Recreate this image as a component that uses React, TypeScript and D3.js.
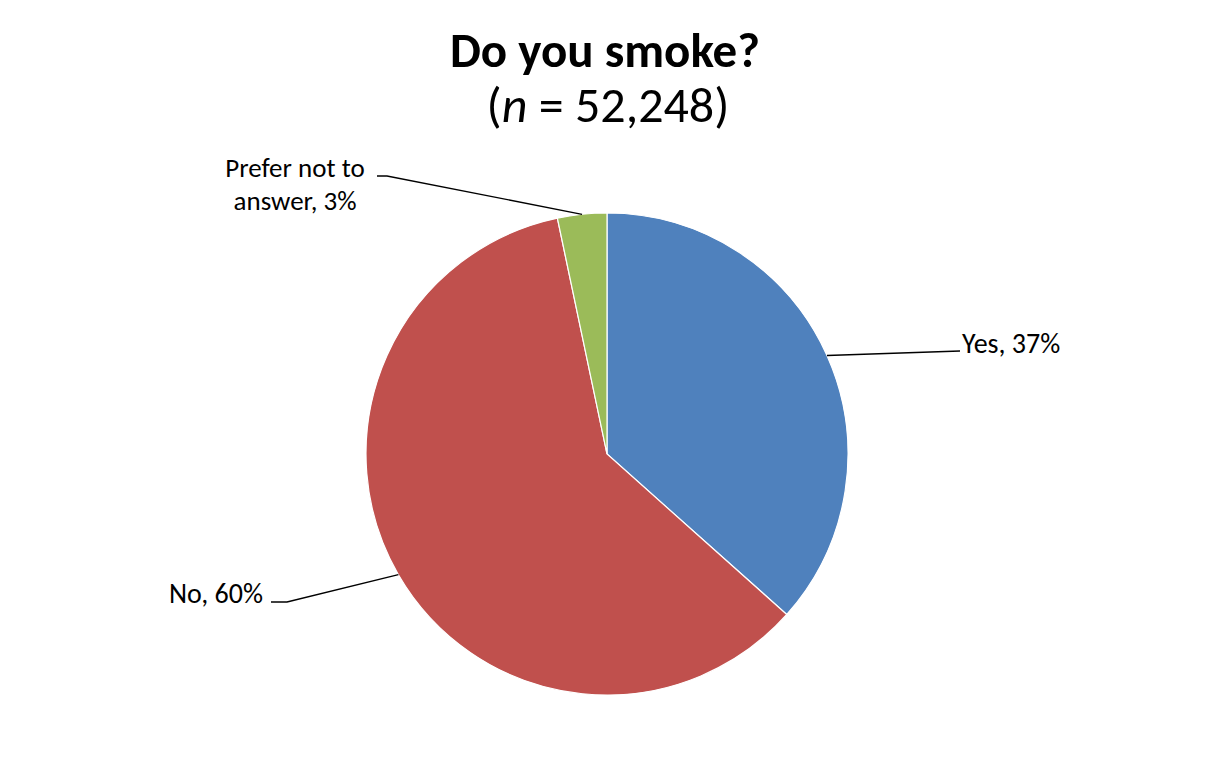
import React from "react";
import * as d3 from "d3";

const categories = ["Yes", "No", "Prefer not to answer"];
const values = [36.6, 60.1, 3.3];
const colors = ["#4F81BD", "#C0504D", "#9BBB59"];
const titleText = "Do you smoke?";
const sampleSize = "52,248";

const W = 1219;
const H = 762;
const cx = 607;
const cy = 454;
const R = 241;

// label layout: leader end, optional elbow, text position (baseline)
const labelLayout = [
  { end: [960, 351], elbow: null as null | number[], tx: 962, ty: 353, anchor: "start" },
  { end: [271, 602], elbow: [287, 602], tx: 263, ty: 603, anchor: "end" },
  { end: [377, 176], elbow: [387, 176], tx: 295, ty: 177, anchor: "middle" },
];

export default function App() {
  const pie = d3.pie<number>().sort(null).value((d) => d);
  const arcs = pie(values);
  const arc = d3.arc<d3.PieArcDatum<number>>().innerRadius(0).outerRadius(R);
  const font = "Carlito, Calibri, Lato, 'Open Sans', sans-serif";
  return (
    <svg width={W} height={H} style={{ position: "absolute", left: 0, top: 0 }}>
      <rect width={W} height={H} fill="#fff" />
      <text x={605} y={67} textAnchor="middle" fontFamily={font} fontWeight="bold" fontSize={49} fill="#000">
        {titleText}
      </text>
      <text x={608} y={122} textAnchor="middle" fontFamily={font} fontSize={50} fill="#000">
        (<tspan fontStyle="italic">n</tspan> = {sampleSize})
      </text>
      <g transform={`translate(${cx},${cy})`}>
        {arcs.map((a, i) => (
          <path key={i} d={arc(a) || ""} fill={colors[i]} stroke="#fff" strokeWidth={1.2} />
        ))}
      </g>
      {arcs.map((a, i) => {
        const mid = (a.startAngle + a.endAngle) / 2;
        const sx = cx + R * Math.sin(mid);
        const sy = cy - R * Math.cos(mid);
        const L = labelLayout[i];
        const pts = [[sx, sy]];
        if (L.elbow) pts.push(L.elbow);
        pts.push(L.end);
        const pct = Math.round(values[i]);
        const label = `${categories[i]}, ${pct}%`;
        let textEl;
        if (i === 2) {
          textEl = (
            <g>
              <text x={L.tx} y={L.ty} textAnchor="middle" fontFamily={font} fontSize={27} fill="#000">
                Prefer not to
              </text>
              <text x={L.tx} y={L.ty + 32.5} textAnchor="middle" fontFamily={font} fontSize={27} fill="#000">
                {`answer, ${pct}%`}
              </text>
            </g>
          );
        } else {
          textEl = (
            <text x={L.tx} y={L.ty} textAnchor={L.anchor as any} fontFamily={font} fontSize={28} fill="#000">
              {label}
            </text>
          );
        }
        return (
          <g key={i}>
            <polyline points={pts.map((p) => p.join(",")).join(" ")} fill="none" stroke="#000" strokeWidth={1.3} />
            {textEl}
          </g>
        );
      })}
    </svg>
  );
}
